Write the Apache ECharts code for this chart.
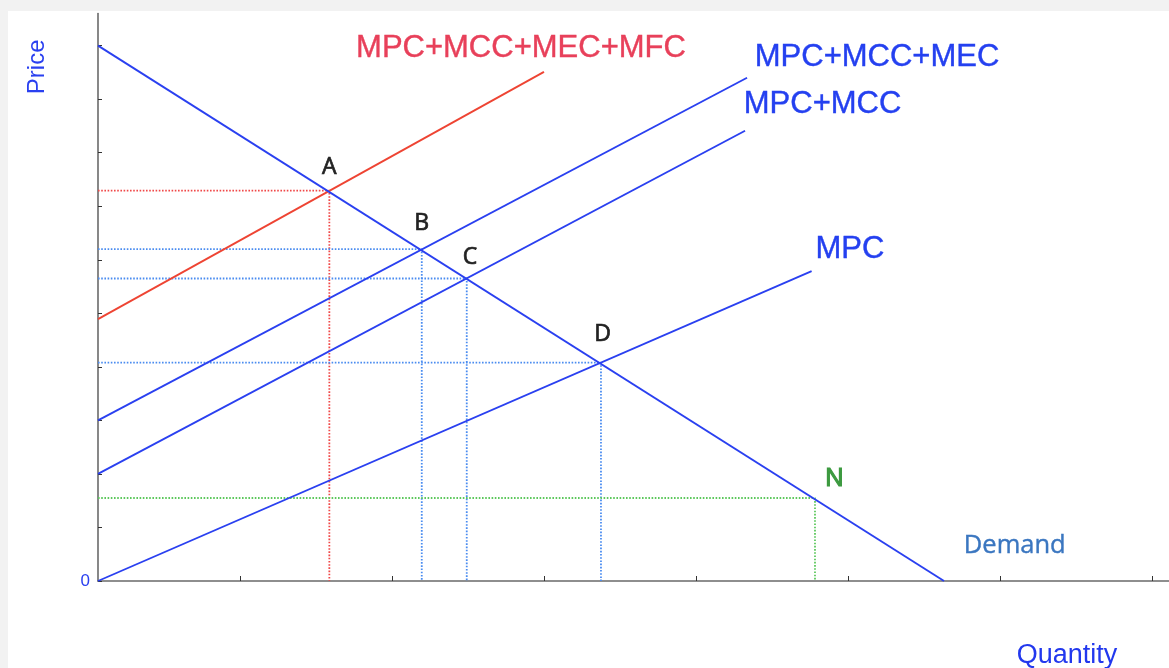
<!DOCTYPE html>
<html><head><meta charset="utf-8">
<script src="https://cdn.jsdelivr.net/npm/echarts@6/dist/echarts.min.js"></script>
<style>
html,body{margin:0;padding:0;background:#f2f2f2;width:1169px;height:668px;overflow:hidden}
#card{position:absolute;left:8px;top:11px;right:0;bottom:0;background:#fff}
#chart{position:absolute;left:0;top:0;width:1169px;height:668px}
</style></head><body><div id="card"></div><div id="chart"></div>
<script>
// ---- data (Quantity units, Price units) ----
const lineNames = ['MPC+MCC+MEC+MFC', 'MPC+MCC+MEC', 'MPC+MCC', 'MPC', 'Demand'];
const lineStartQ = [0, 0, 0, 0, 0];
const lineStartP = [4.89, 3.0, 2.0, 0, 10];
const lineEndQ = [29.34, 42.7, 42.57, 46.95, 55.66];
const lineEndP = [9.51, 9.40, 8.41, 5.79, 0];
const pointNames = ['A', 'B', 'C', 'D', 'N'];
const pointQ = [15.22, 21.3, 24.26, 33.09, 47.17];
const pointP = [7.29, 6.2, 5.65, 4.08, 1.55];
const qTicks = [9.39, 19.39, 29.39, 39.39, 49.39, 59.39, 69.39];
const pTicks = [0, 1, 2, 3, 4, 5, 6, 7, 8, 9, 10];
const pLabels = [0];

// ---- styles ----
const lineColors = ['#ee4433', '#2a40f0', '#2a40f0', '#2a40f0', '#2a40f0'];
const lineLabelColors = ['#e8405a', '#2440f0', '#2440f0', '#2440f0', '#3a76c0'];
const lineLabelOffsets = [[-23, -23], [130, -20], [77.5, -26.4], [38.3, -21.2], [70.7, -35.2]];
const lineLabelFonts = [
  {fontFamily: 'Liberation Sans', fontSize: 31},
  {fontFamily: 'Liberation Sans', fontSize: 31},
  {fontFamily: 'Liberation Sans', fontSize: 31},
  {fontFamily: 'Liberation Sans', fontSize: 31},
  {fontFamily: 'Open Sans', fontSize: 25.5}
];
const pointGuideColors = ['#f04848', '#4a8cf0', '#4a8cf0', '#4a8cf0', '#5cc85c'];
const pointLabelColors = ['#222', '#222', '#222', '#222', '#3d9a40'];
const pointLabelOffsets = [[0, -23.7], [0, -26], [3.3, -21], [1.7, -27.7], [19.3, -18.7]];
const pointLabelSize = [23, 23, 23, 23, 25];
const pointLabelBorder = [0.7, 0.7, 0.7, 0.7, 1.2];

const chart = echarts.init(document.getElementById('chart'), null, {renderer: 'canvas'});

const series = [];
// dotted guides
pointNames.forEach((n, i) => {
  series.push({
    type: 'line', name: 'guide' + n, silent: true, symbol: 'none', z: 1,
    data: [[0, pointP[i]], [pointQ[i], pointP[i]], [pointQ[i], 0]],
    lineStyle: {color: pointGuideColors[i], width: 1.8, type: [1.6, 1.6]}
  });
});
// solid lines
lineNames.forEach((n, i) => {
  series.push({
    type: 'line', name: n, symbol: 'none', z: 3, silent: true,
    data: [[lineStartQ[i], lineStartP[i]], [lineEndQ[i], lineEndP[i]]],
    lineStyle: {color: lineColors[i], width: 1.9}
  });
});
const baseLabel = {show: true, position: 'inside', formatter: '{b}', align: 'center', verticalAlign: 'middle', opacity: 1};
// line labels
series.push({
  type: 'scatter', name: 'lineLabels', symbolSize: 0, z: 5, silent: true,
  itemStyle: {color: '#fff'},
  data: lineNames.map((n, i) => ({
    name: n, value: [lineEndQ[i], lineEndP[i]],
    label: Object.assign({}, baseLabel, {
      color: lineLabelColors[i], offset: lineLabelOffsets[i],
      textBorderColor: lineLabelColors[i], textBorderWidth: 0.4
    }, lineLabelFonts[i])
  }))
});
// point labels
series.push({
  type: 'scatter', name: 'pointLabels', symbolSize: 0, z: 5, silent: true,
  itemStyle: {color: '#fff'},
  data: pointNames.map((n, i) => ({
    name: n, value: [pointQ[i], pointP[i]],
    label: Object.assign({}, baseLabel, {
      color: pointLabelColors[i], offset: pointLabelOffsets[i], fontFamily: 'Open Sans',
      fontSize: pointLabelSize[i], textBorderColor: pointLabelColors[i], textBorderWidth: pointLabelBorder[i]
    })
  }))
});

chart.setOption({
  animation: false,
  grid: {left: 98, right: 0, top: 13.5, bottom: 87, containLabel: false},
  xAxis: {
    type: 'value', min: 0, max: 70.46,
    axisLine: {show: true, lineStyle: {color: '#6a6a6a', width: 1.6}},
    axisTick: {show: true, inside: true, length: 5, customValues: qTicks, lineStyle: {color: '#333', width: 1}},
    axisLabel: {show: false},
    splitLine: {show: false}
  },
  yAxis: {
    type: 'value', min: 0, max: 10.6,
    axisLine: {show: true, lineStyle: {color: '#6a6a6a', width: 1.6}},
    axisTick: {show: true, inside: true, length: 4, customValues: pTicks, lineStyle: {color: '#333', width: 1}},
    axisLabel: {show: true, customValues: pLabels, color: '#2a40f0', fontSize: 17, fontFamily: 'Liberation Sans', margin: 8},
    splitLine: {show: false}
  },
  graphic: [
    {type: 'text', x: 37.5, y: 66.8, rotation: Math.PI / 2,
     style: {text: 'Price', fill: '#2a40f0', font: '24px "Liberation Sans"', align: 'center', verticalAlign: 'middle'}},
    {type: 'text', x: 1067, y: 656,
     style: {text: 'Quantity', fill: '#2238ee', font: '27px "Liberation Sans"', align: 'center', verticalAlign: 'middle'}}
  ],
  series: series
});
</script></body></html>
